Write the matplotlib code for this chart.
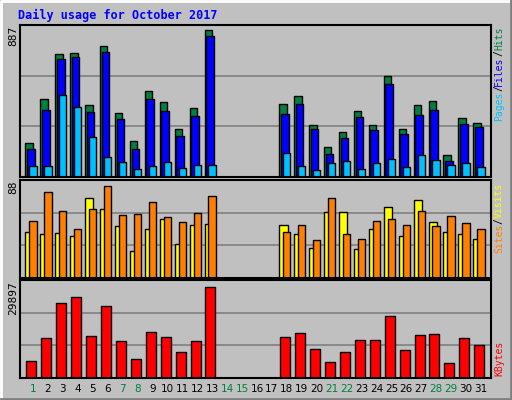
import numpy as np
import matplotlib.pyplot as plt
from matplotlib.lines import Line2D

# Daily usage, October 2017
days = np.arange(1, 32)
hits = [207, 471, 738, 748, 435, 790, 387, 219, 520, 453, 291, 417, 887, 0, 0, 0, 0,
        441, 489, 315, 183, 273, 399, 315, 610, 291, 435, 459, 134, 357, 327]
files = [170, 405, 712, 724, 393, 754, 351, 170, 471, 399, 249, 369, 851, 0, 0, 0, 0,
         381, 441, 291, 140, 237, 363, 285, 562, 261, 375, 405, 98, 321, 303]
pages = [64, 64, 495, 423, 239, 118, 88, 46, 64, 88, 52, 70, 70, 0, 0, 0, 0,
         146, 64, 40, 82, 94, 46, 82, 106, 58, 130, 100, 70, 82, 58]
sites = [44, 42, 43, 40, 77, 66, 50, 26, 47, 56, 33, 51, 52, 0, 0, 0, 0,
         51, 42, 29, 63, 63, 28, 47, 68, 40, 75, 54, 44, 42, 37]
visits = [55, 82, 64, 47, 66, 88, 60, 61, 73, 58, 54, 62, 78, 0, 0, 0, 0,
          44, 51, 36, 77, 42, 37, 55, 56, 51, 64, 50, 59, 53, 47]
kbytes = [5673, 13201, 24657, 26402, 13856, 23675, 12219, 6328, 15165, 13528, 8619,
          12219, 29897, 0, 0, 0, 0, 13528, 14838, 9601, 5346, 8619, 12547, 12547,
          20402, 9274, 14183, 14511, 5019, 13201, 10910]
weekend = [1, 7, 8, 14, 15, 21, 22, 28, 29]

W, H = 512, 400
bg = '#C0C0C0'
green = '#008040'
fig = plt.figure(figsize=(W / 100, H / 100), dpi=100, facecolor=bg)

# bevel border
fig.add_artist(Line2D([1 / W, 1 / W, 1 - 1 / W], [0, 1 - 1 / H, 1 - 1 / H], color='white', lw=2, transform=fig.transFigure))
fig.add_artist(Line2D([1 / W, 1 - 1 / W, 1 - 1 / W], [1.5 / H, 1.5 / H, 1], color='#808080', lw=2, transform=fig.transFigure))

fig.text(18 / W, 1 - 15 / H, 'Daily usage for October 2017', color='#0000FF',
         family='DejaVu Sans Mono', weight='bold', fontsize=8.5, va='center')

x0, x1 = 0.13, 31.67


def panel(top, bottom, ymax):
    ax = fig.add_axes([20 / W, 1 - bottom / H, 471 / W, (bottom - top) / H])
    ax.set_facecolor(bg)
    ax.set_xlim(x0, x1)
    ax.set_ylim(0, ymax)
    for g in (ymax / 3, 2 * ymax / 3):
        ax.axhline(g, color='#808080', lw=1.2, zorder=0)
    ax.set_xticks([])
    ax.set_yticks([])
    for s in ax.spines.values():
        s.set_linewidth(1.5)
    return ax


def bars(ax, vals, off, w, col):
    ax.bar(days + off, vals, width=w, align='edge', color=col, edgecolor='black', lw=1, zorder=2)


ax1 = panel(25, 177, 887 * 152 / 147.4)
bars(ax1, hits, -0.515, 0.5, green)
bars(ax1, files, -0.40, 0.51, '#0000FF')
bars(ax1, pages, -0.25, 0.49, '#00C0FF')

ax2 = panel(180, 278, 88 * 98 / 92)
bars(ax2, sites, -0.515, 0.56, '#FFFF00')
bars(ax2, visits, -0.25, 0.49, '#FF8000')

ax3 = panel(280, 378, 29897 * 98 / 91.3)
bars(ax3, kbytes, -0.45, 0.67, '#FF0000')

# max labels on the left
for y, t in [(25, '887'), (180, '88'), (280, '29897')]:
    fig.text(13 / W, 1 - (y + 1) / H, t, rotation=90, ha='center', va='top',
             family='DejaVu Sans Mono', fontsize=8)

# legends on the right, reading bottom to top
def side(ytop, parts):
    y = 1 - ytop / H
    for txt, col in parts[::-1]:
        fig.text(499 / W, y, txt, rotation=90, ha='center', va='top', color=col,
                 family='DejaVu Sans Mono', fontsize=7)
        y -= len(txt) * 5.85 / H

side(27, [('Pages', '#00C0FF'), ('/', 'black'), ('Files', '#0000FF'), ('/', 'black'), ('Hits', green)])
side(183, [('Sites', '#FF8000'), ('/', 'black'), ('Visits', '#FFFF00')])
side(341, [('KBytes', '#FF0000')])

# day labels
for d in days:
    x = 20 + (d - x0) / (x1 - x0) * 471
    fig.text(x / W, 1 - 389 / H, str(d), ha='center', va='center', fontsize=7.5,
             color=green if d in weekend else 'black')

fig.savefig('out.png', dpi=100, facecolor=bg)
